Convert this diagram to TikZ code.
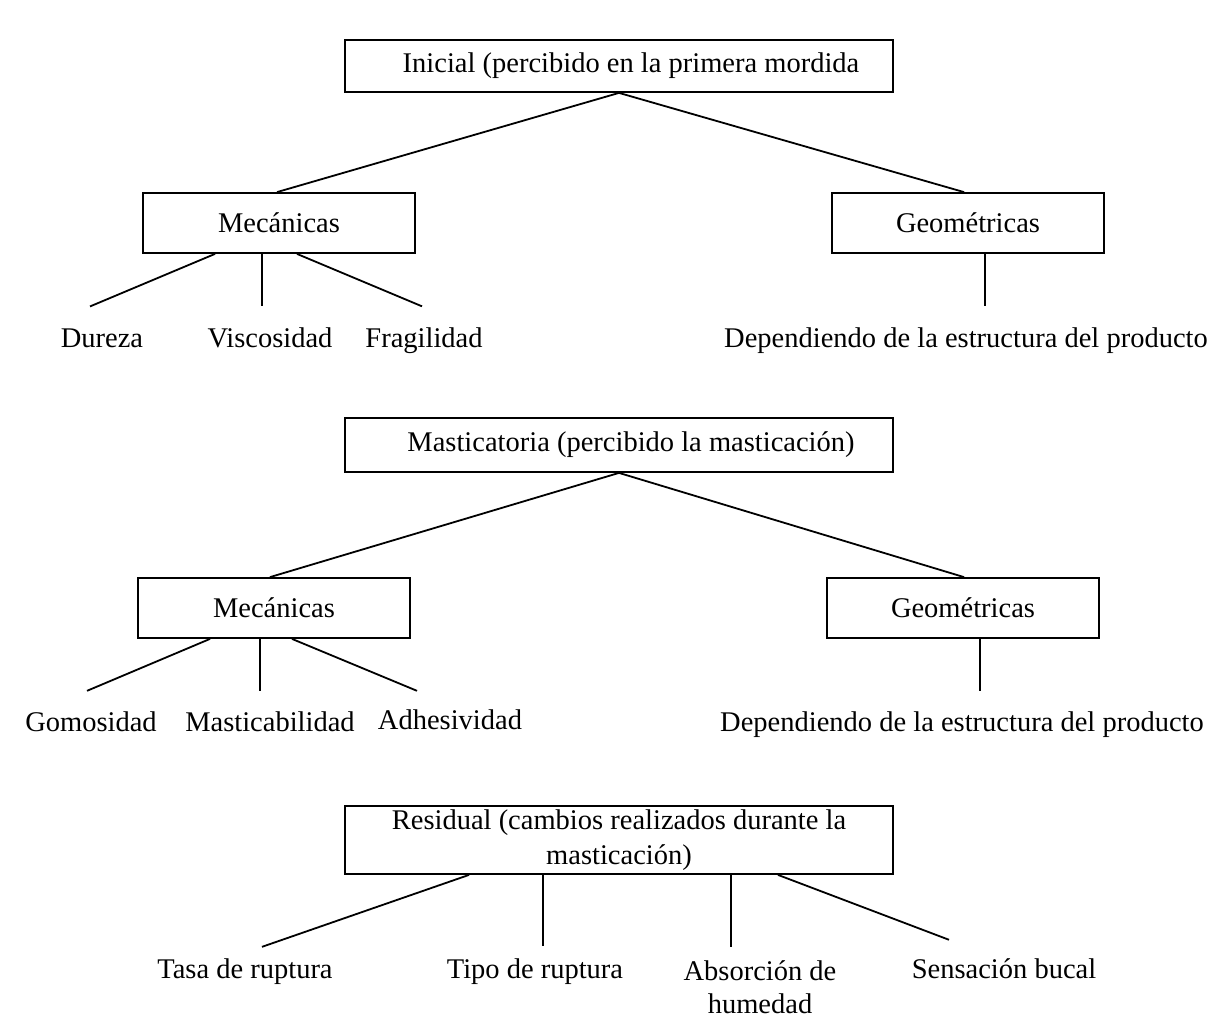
\documentclass[tikz,border=0pt]{standalone}
\usepackage{fontspec}
\setmainfont{Liberation Serif}
\usepackage{tikz}

\begin{document}
\begin{tikzpicture}[x=1pt, y=-1pt, line width=1.8pt,
  every node/.style={font=\fontsize{28.5}{33}\selectfont, inner sep=0pt},
  cajagrande/.style={draw, minimum width=548pt},
  caja/.style={draw, minimum width=272pt, minimum height=60pt}]
\useasboundingbox (0,0) rectangle (1228,1026);

% Inicial
\node[cajagrande, minimum height=52pt] (ini) at (619,66) {\hspace*{24pt}Inicial (percibido en la primera mordida};
\node[caja] (mec1) at (279,223) {Mecánicas};
\node[caja] (geo1) at (968,223) {Geométricas};
\draw (ini.south) -- ([xshift=-2pt]mec1.north);
\draw (ini.south) -- ([xshift=-4pt]geo1.north);
\node[anchor=base] (dur) at (102,347) {Dureza};
\node[anchor=base] (visc) at (270,347) {Viscosidad};
\node[anchor=base] (frag) at (424,347) {Fragilidad};
\node[anchor=base] (dep1) at (966,347) {Dependiendo de la estructura del producto};
\draw ([xshift=-64pt]mec1.south) -- ([xshift=-12pt,yshift=21pt]dur.north);
\draw ([xshift=-17pt]mec1.south) -- ([xshift=-8pt,yshift=20pt]visc.north);
\draw ([xshift=18pt]mec1.south) -- ([xshift=-2pt,yshift=20pt]frag.north);
\draw ([xshift=17pt]geo1.south) -- ([xshift=19pt,yshift=20pt]dep1.north);

% Masticatoria
\node[cajagrande, minimum height=54pt] (mast) at (619,445) {\hspace*{24pt}Masticatoria (percibido la masticación)};
\node[caja] (mec2) at (274,608) {Mecánicas};
\node[caja] (geo2) at (963,608) {Geométricas};
\draw (mast.south) -- ([xshift=-4pt]mec2.north);
\draw (mast.south) -- ([xshift=1pt]geo2.north);
\node[anchor=base] (gom) at (91,731) {Gomosidad};
\node[anchor=base] (mastb) at (270,731) {Masticabilidad};
\node[anchor=base] (adh) at (450,729) {Adhesividad};
\node[anchor=base] (dep2) at (962,731) {Dependiendo de la estructura del producto};
\draw ([xshift=-64pt]mec2.south) -- ([xshift=-4pt,yshift=19.5pt]gom.north);
\draw ([xshift=-14pt]mec2.south) -- ([xshift=-10pt,yshift=19.5pt]mastb.north);
\draw ([xshift=18pt]mec2.south) -- ([xshift=-33pt,yshift=17.5pt]adh.north);
\draw ([xshift=17pt]geo2.south) -- ([xshift=18pt,yshift=19.5pt]dep2.north);

% Residual
\node[cajagrande, minimum height=68pt, align=center, font=\fontsize{28.5}{35}\selectfont] (res) at (619,840) {Residual (cambios realizados durante la\\ masticación)};
\node[anchor=base] (tasa) at (245,978) {Tasa de ruptura};
\node[anchor=base] (tipo) at (535,978) {Tipo de ruptura};
\node[anchor=north, align=center] (abs) at (760,960) {Absorción de\\ humedad};
\node[anchor=base] (sens) at (1004,978) {Sensación bucal};
\draw ([xshift=-150pt]res.south) -- ([xshift=17pt,yshift=10.5pt]tasa.north);
\draw ([xshift=-76pt]res.south) -- ([xshift=8pt,yshift=11.5pt]tipo.north);
\draw ([xshift=112pt]res.south) -- ([xshift=-29pt,yshift=13pt]abs.north);
\draw ([xshift=159pt]res.south) -- ([xshift=-55pt,yshift=17.5pt]sens.north);
\end{tikzpicture}
\end{document}
